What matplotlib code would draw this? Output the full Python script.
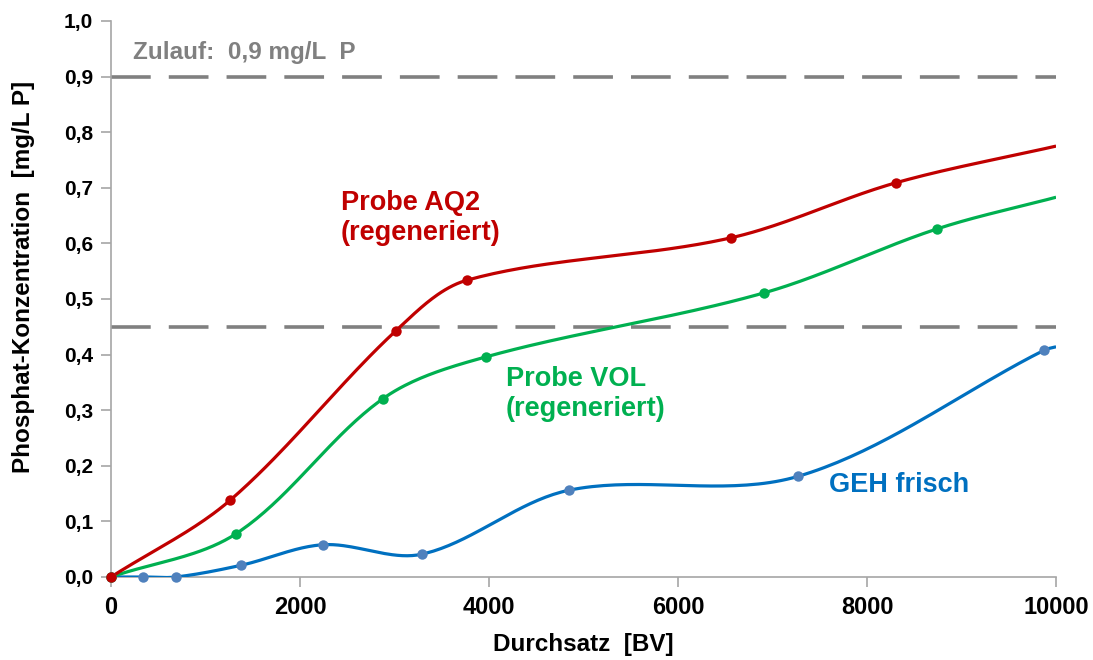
import numpy as np
import matplotlib.pyplot as plt

plt.rcParams['font.family'] = ['Liberation Sans', 'DejaVu Sans']
plt.rcParams['font.weight'] = 'bold'

# data (last point of each series is where the line leaves the plot, no marker)
aq2_x = [0, 1260, 3015, 3770, 6560, 8305, 10000]
aq2_y = [0.0, 0.138, 0.443, 0.534, 0.610, 0.709, 0.775]

vol_x = [0, 1325, 2880, 3970, 6910, 8740, 10000]
vol_y = [0.0, 0.078, 0.321, 0.396, 0.511, 0.626, 0.683]

geh_x = [0, 340, 690, 1375, 2245, 3290, 4845, 7270, 9875, 10000]
geh_y = [0.0, 0.0, 0.0, 0.021, 0.058, 0.041, 0.156, 0.181, 0.408, 0.414]

zulauf = 0.9
half_line = 0.45

x_ticks = [0, 2000, 4000, 6000, 8000, 10000]
y_ticks = np.round(np.arange(0, 1.01, 0.1), 1)

# rough pixel size of one data unit, so smoothing behaves like on screen
SX, SY = 0.0945, 556.0


def smooth(xs, ys, n=40):
    # excel-like smoothed line: bezier, tangents weighted by segment lengths
    p = np.column_stack([np.array(xs) * SX, np.array(ys) * SY]).astype(float)
    p = np.vstack([p[0], p, p[-1]])
    out = []
    t = np.linspace(0, 1, n)[:, None]
    for i in range(1, len(p) - 2):
        p0, p1, p2, p3 = p[i - 1], p[i], p[i + 1], p[i + 2]
        d01 = np.hypot(*(p1 - p0))
        d12 = np.hypot(*(p2 - p1))
        d23 = np.hypot(*(p3 - p2))
        c1 = p1 + (p2 - p0) * d12 / (3 * (d01 + d12)) if d01 + d12 > 0 else p1
        c2 = p2 - (p3 - p1) * d12 / (3 * (d12 + d23)) if d12 + d23 > 0 else p2
        seg = ((1 - t) ** 3) * p1 + 3 * ((1 - t) ** 2) * t * c1 + 3 * (1 - t) * t ** 2 * c2 + t ** 3 * p2
        out.append(seg)
    out = np.vstack(out)
    return out[:, 0] / SX, out[:, 1] / SY


fig = plt.figure(figsize=(10.93, 6.6), dpi=100)
ax = fig.add_axes([0.1016, 0.1258, 0.8646, 0.8424])

ax.axhline(zulauf, color='#808080', lw=2.6, dashes=(11, 5), zorder=1)
ax.axhline(half_line, color='#808080', lw=2.6, dashes=(11, 5), zorder=1)

series = [
    (geh_x, geh_y, '#0070C0', '#4F81BD'),
    (vol_x, vol_y, '#00B050', '#00B050'),
    (aq2_x, aq2_y, '#C00000', '#C00000'),
]
for xs, ys, lc, mc in series:
    sx, sy = smooth(xs, ys)
    ax.plot(sx, sy, color=lc, lw=2.3, zorder=3, solid_capstyle='butt')
    ax.plot(xs[:-1], ys[:-1], 'o', color=mc, ms=7.5, mec='none', zorder=4, clip_on=False)

ax.set_xlim(0, 10000)
ax.set_ylim(0, 1.0)
ax.set_xticks(x_ticks)
ax.set_xticklabels([str(v) for v in x_ticks])
ax.set_yticks(y_ticks)
ax.set_yticklabels([f'{v:.1f}'.replace('.', ',') for v in y_ticks])

for s in ['top', 'right']:
    ax.spines[s].set_visible(False)
for s in ['left', 'bottom']:
    ax.spines[s].set_color('#A6A6A6')
    ax.spines[s].set_linewidth(1.2)
ax.tick_params(axis='both', colors='#A6A6A6', labelcolor='black',
               length=7, width=1.2, direction='out')
ax.tick_params(axis='x', labelsize=17, pad=7)
ax.tick_params(axis='y', labelsize=15, pad=6)

ax.set_xlabel('Durchsatz  [BV]', fontsize=17.5, fontweight='bold', labelpad=10)
ax.set_ylabel('Phosphat-Konzentration  [mg/L P]', fontsize=17.5, fontweight='bold')
ax.yaxis.set_label_coords(-0.081, 0.54)

ax.text(230, 0.944, 'Zulauf:  0,9 mg/L  P', color='#808080', fontsize=17.5, fontweight='bold',
        va='center', ha='left')
ax.text(2430, 0.646, 'Probe AQ2\n(regeneriert)', color='#C00000', fontsize=19.5, fontweight='bold',
        va='center', ha='left', linespacing=1.2)
ax.text(4180, 0.329, 'Probe VOL\n(regeneriert)', color='#00B050', fontsize=19.5, fontweight='bold',
        va='center', ha='left', linespacing=1.2)
ax.text(7600, 0.165, 'GEH frisch', color='#0070C0', fontsize=19.5, fontweight='bold',
        va='center', ha='left')

fig.savefig('out.png', dpi=100)
